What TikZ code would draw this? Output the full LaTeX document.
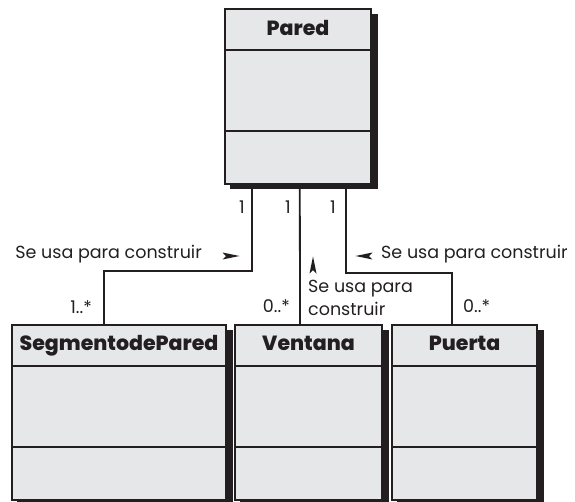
\documentclass[tikz,border=0pt]{standalone}
\usepackage{fontspec}
\setmainfont{Poppins}[BoldFont={Poppins ExtraBold}]
\usetikzlibrary{arrows.meta, positioning}

\begin{document}
\begin{tikzpicture}[
  x=1pt, y=-1pt,
  cls/.style={inner sep=0pt},
  box/.style={draw=cline, fill=cfill, line width=1.8pt},
  boxshadow/.style={fill=cline},
  sep/.style={draw=cline, line width=1.8pt},
  conn/.style={draw=cline, line width=1.8pt},
  title/.style={font=\bfseries\fontsize{20.5}{24}\selectfont, text=cline, inner sep=0pt},
  lab/.style={font=\fontsize{17.5}{23}\selectfont, text=cline, inner sep=0pt},
  dirhead/.pic={\fill[cline] (-8.5pt,3.5pt) -- (8.5pt,0pt) -- (-8.5pt,-3.5pt) -- (-5pt,0pt) -- cycle;},
]
\definecolor{cfill}{HTML}{E6E7E9}
\definecolor{cline}{HTML}{231F20}
\useasboundingbox (0,0) rectangle (575,501);
% classes
\node[cls, minimum width=146pt, minimum height=174.5pt] (pared) at (298,96.75) {};
\node[cls, minimum width=214pt, minimum height=175pt] (seg) at (119,412.5) {};
\node[cls, minimum width=147pt, minimum height=175pt] (vent) at (308.5,412.5) {};
\node[cls, minimum width=145pt, minimum height=175pt] (puer) at (464.5,412.5) {};
\foreach \b in {pared,seg,vent,puer} {
  \draw[box] (\b.south west) rectangle (\b.north east);
  \fill[boxshadow] ([yshift=-5pt]\b.north east) rectangle ([xshift=6.5pt,yshift=-5pt]\b.south east);
  \fill[boxshadow] ([xshift=5pt]\b.south west) rectangle ([xshift=6.5pt,yshift=-5pt]\b.south east);
  \draw[sep] ([yshift=-41pt]\b.north west) -- ([yshift=-41pt]\b.north east);
  \draw[sep] ([yshift=-122pt]\b.north west) -- ([yshift=-122pt]\b.north east);
}
\node[title, anchor=base] (paredname) at ([yshift=-26pt]pared.north) {Pared};
\node[title, anchor=base] (segname) at ([yshift=-26pt]seg.north) {SegmentodePared};
\node[title, anchor=base] (ventname) at ([yshift=-26pt]vent.north) {Ventana};
\node[title, anchor=base] (puername) at ([yshift=-26pt]puer.north) {Puerta};
% associations
\draw[conn] ([xshift=27pt]pared.south west) -- ++(0,87) -| ([xshift=-15pt]seg.north);
\draw[conn] ([xshift=75pt]pared.south west) -- ([xshift=-8.5pt]vent.north);
\draw[conn] ([xshift=121pt]pared.south west) -- ++(0,89) -| ([xshift=-12.5pt]puer.north);
% multiplicities
\node[lab, anchor=base] (m1) at (242,213) {1};
\node[lab, anchor=base] (m2) at (288,213) {1};
\node[lab, anchor=base] (m3) at (333,213) {1};
\node[lab, anchor=base east] (m4) at (92,313) {1..*};
\node[lab, anchor=base east] (m5) at (290,312) {0..*};
\node[lab, anchor=base west] (m6) at (463,312) {0..*};
% roles
\node[lab, anchor=base east] (uso1) at (202,258) {Se usa para construir};
\node[lab, anchor=base west] (uso3) at (381,258) {Se usa para construir};
\node[lab, anchor=north west, align=left] (uso2) at (308,280) {Se usa para\\construir};
\pic at (231,256) {dirhead};
\pic[rotate=180] at (364,256) {dirhead};
\pic[rotate=90] at (313,265) {dirhead};
\end{tikzpicture}
\end{document}
